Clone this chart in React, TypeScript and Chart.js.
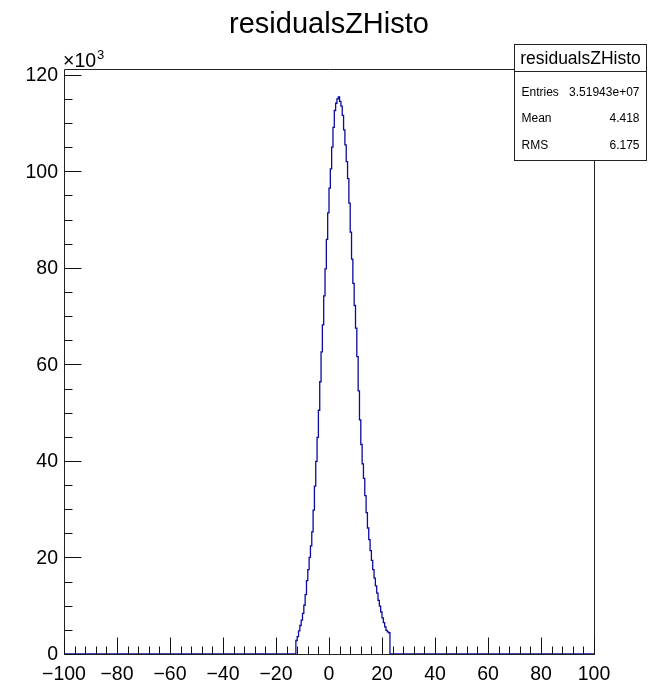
import React, { useEffect, useRef } from "react";
import { Chart, registerables } from "chart.js";

Chart.register(...registerables);

// ---------- data ----------
const TITLE = "residualsZHisto";
const X_MIN = -100;
const X_MAX = 100;
const Y_MIN = 0;
const Y_MAX = 121.2; // in units of 10^3
const X_TICKS = [-100, -80, -60, -40, -20, 0, 20, 40, 60, 80, 100];
const X_MINOR_STEP = 4;
const Y_TICKS = [0, 20, 40, 60, 80, 100, 120];
const Y_MINOR_STEP = 5;
const Y_EXPONENT_LABEL = "×10";
const Y_EXPONENT = "3";

const BIN_START = -12.5;
const BIN_WIDTH = 0.5;
// bin contents in thousands of entries
const COUNTS_K = [
  2.8, 3.6, 4.8, 5.9, 7.0, 8.4, 10.1, 12.3, 15.2, 17.5,
  20.0, 22.4, 25.3, 29.8, 34.8, 39.9, 44.9, 50.5, 56.4, 62.6,
  68.2, 74.2, 79.8, 85.9, 91.4, 96.5, 100.5, 105.0, 109.1, 112.6,
  114.1, 115.0, 115.4, 114.5, 113.5, 111.6, 108.6,
  105.5, 102.0, 98.5, 93.4, 87.4, 81.8, 76.8, 72.2, 67.5, 61.6,
  54.5, 48.5, 43.4, 39.4, 36.4, 32.8, 29.3, 26.1, 23.7, 21.4,
  19.4, 17.5, 15.7, 14.1, 12.6, 11.1, 9.9, 8.7, 7.5, 6.5,
  5.6, 4.9, 4.6, 4.4,
];

const STATS_TITLE = "residualsZHisto";
const STATS_LABELS = ["Entries", "Mean", "RMS"];
const STATS_VALUES = ["3.51943e+07", "4.418", "6.175"];

const FONT = '"Liberation Sans", Arial, Helvetica, sans-serif';

function fmtTick(v: number): string {
  return v < 0 ? "\u2212" + String(-v) : String(v);
}

const rootStylePlugin = {
  id: "rootStyle",
  afterDraw(chart: any) {
    const ctx: CanvasRenderingContext2D = chart.ctx;
    const { left, right, top, bottom } = chart.chartArea;
    const xs = chart.scales.x;
    const ys = chart.scales.y;
    ctx.save();

    const L = Math.round(left) + 0.5;
    const R = Math.round(right) + 0.5;
    const T = Math.round(top) + 0.5;
    const B = Math.round(bottom) + 0.5;

    // frame
    ctx.strokeStyle = "#222";
    ctx.lineWidth = 1;
    ctx.beginPath();
    ctx.rect(L, T, R - L, B - T);
    ctx.stroke();

    // x ticks
    ctx.strokeStyle = "#111";
    ctx.beginPath();
    for (let v = X_MIN; v <= X_MAX + 1e-9; v += X_MINOR_STEP) {
      const px = Math.round(xs.getPixelForValue(v)) + 0.5;
      const major = X_TICKS.some((t) => Math.abs(t - v) < 1e-6);
      const len = major ? 17 : 8;
      ctx.moveTo(px, B);
      ctx.lineTo(px, B - len);
    }
    // y ticks
    for (let v = Y_MIN; v <= Y_MAX + 1e-9; v += Y_MINOR_STEP) {
      const py = Math.round(ys.getPixelForValue(v)) + 0.5;
      const major = Y_TICKS.some((t) => Math.abs(t - v) < 1e-6);
      const len = major ? 17 : 8;
      ctx.moveTo(L, py);
      ctx.lineTo(L + len, py);
    }
    ctx.stroke();

    // tick labels
    ctx.fillStyle = "#000";
    ctx.font = `19.5px ${FONT}`;
    ctx.textAlign = "center";
    ctx.textBaseline = "alphabetic";
    X_TICKS.forEach((v) => {
      const px = xs.getPixelForValue(v);
      ctx.fillText(fmtTick(v), px, bottom + 26);
    });
    ctx.textAlign = "right";
    ctx.textBaseline = "middle";
    Y_TICKS.forEach((v) => {
      const py = ys.getPixelForValue(v);
      ctx.fillText(fmtTick(v), left - 6, py + 1);
    });

    // exponent label
    ctx.textAlign = "left";
    ctx.textBaseline = "alphabetic";
    ctx.font = `19.5px ${FONT}`;
    ctx.fillText(Y_EXPONENT_LABEL, left - 1, top - 2);
    const w = ctx.measureText(Y_EXPONENT_LABEL).width;
    ctx.font = `13px ${FONT}`;
    ctx.fillText(Y_EXPONENT, left - 1 + w + 1, top - 10);

    // title
    ctx.font = `29px ${FONT}`;
    ctx.textAlign = "center";
    ctx.fillText(TITLE, (left + right) / 2, 33);

    // stats box
    const bx = 514.5, by = 44.5, bw = 132, bh = 116;
    ctx.fillStyle = "#fff";
    ctx.fillRect(bx, by, bw, bh);
    ctx.strokeStyle = "#222";
    ctx.strokeRect(bx, by, bw, bh);
    ctx.beginPath();
    ctx.moveTo(bx, 71.5);
    ctx.lineTo(bx + bw, 71.5);
    ctx.stroke();
    ctx.fillStyle = "#000";
    ctx.font = `17.5px ${FONT}`;
    ctx.textAlign = "center";
    ctx.textBaseline = "middle";
    ctx.fillText(STATS_TITLE, bx + bw / 2, 59);
    ctx.font = `12px ${FONT}`;
    const rowY = [93, 119, 145.5];
    STATS_LABELS.forEach((lab, i) => {
      ctx.textAlign = "left";
      ctx.fillText(lab, 521.5, rowY[i]);
      ctx.textAlign = "right";
      ctx.fillText(STATS_VALUES[i], 639.5, rowY[i]);
    });

    ctx.restore();
  },
};

export default function App() {
  const ref = useRef<HTMLCanvasElement | null>(null);

  useEffect(() => {
    if (!ref.current) return;
    const pts: { x: number; y: number }[] = [{ x: X_MIN, y: 0 }];
    COUNTS_K.forEach((c, i) => pts.push({ x: BIN_START + i * BIN_WIDTH, y: c }));
    pts.push({ x: BIN_START + COUNTS_K.length * BIN_WIDTH, y: 0 });
    pts.push({ x: X_MAX, y: 0 });

    const chart = new Chart(ref.current, {
      type: "line",
      data: {
        datasets: [
          {
            data: pts,
            stepped: "before",
            borderColor: "#0b0b9e",
            borderWidth: 1.3,
            pointRadius: 0,
            fill: false,
          },
        ],
      },
      options: {
        responsive: false,
        animation: false,
        devicePixelRatio: 1,
        layout: { padding: { left: 64, right: 59, top: 69, bottom: 30 } },
        scales: {
          x: { type: "linear", min: X_MIN, max: X_MAX, display: false },
          y: { type: "linear", min: Y_MIN, max: Y_MAX, display: false },
        },
        plugins: {
          legend: { display: false },
          tooltip: { enabled: false },
          title: { display: false },
        },
      },
      plugins: [rootStylePlugin],
    } as any);
    return () => chart.destroy();
  }, []);

  return (
    <div style={{ position: "fixed", left: 0, top: 0, width: 653, height: 684, background: "#fff" }}>
      <canvas ref={ref} width={653} height={684} style={{ width: 653, height: 684, display: "block" }} />
    </div>
  );
}
